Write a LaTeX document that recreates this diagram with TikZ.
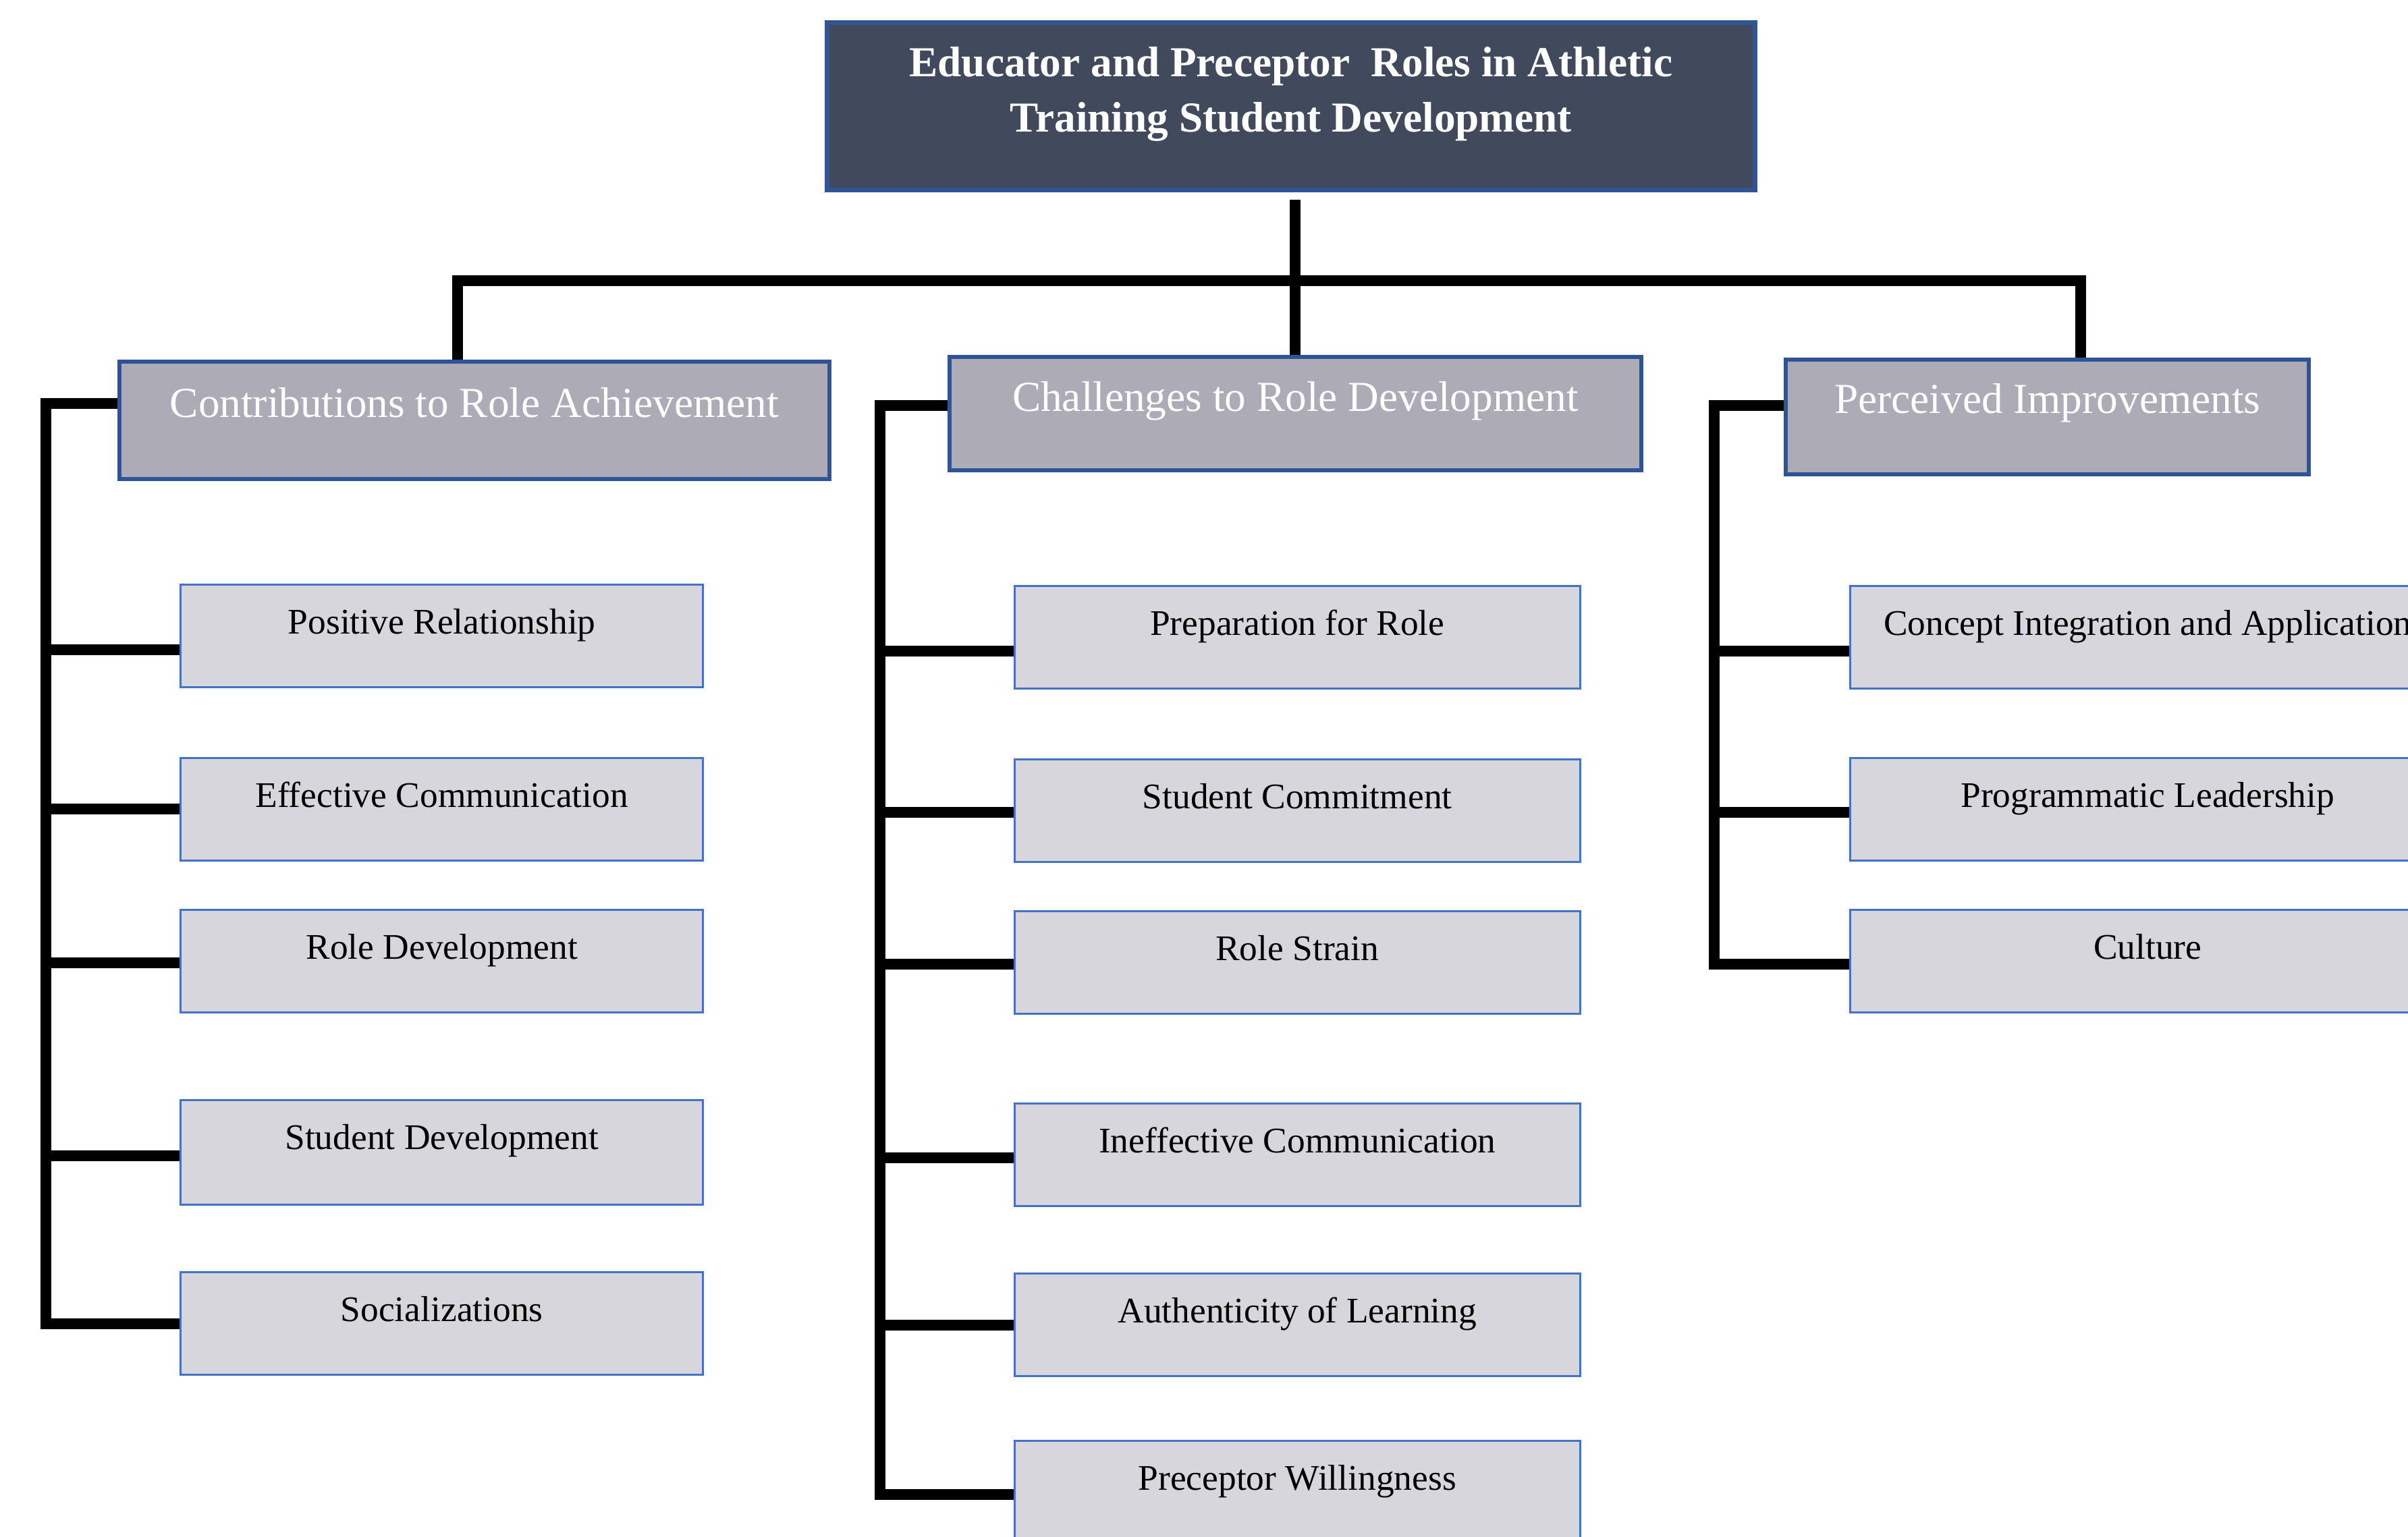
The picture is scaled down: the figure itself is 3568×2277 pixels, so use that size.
\documentclass[tikz,border=0pt]{standalone}
\usepackage{fontspec}
\setmainfont{Liberation Serif}
\definecolor{titlefill}{HTML}{404A5C}
\definecolor{titleborder}{HTML}{2F5597}
\definecolor{headfill}{HTML}{ACABB6}
\definecolor{headborder}{HTML}{2F5496}
\definecolor{leaffill}{HTML}{D6D6DC}
\definecolor{leafborder}{HTML}{4472C4}
\begin{document}
\begin{tikzpicture}[x=0.01cm,y=-0.01cm,
  titlebox/.style={draw=titleborder, line width=0.07cm, fill=titlefill, inner sep=0pt,
    anchor=north west, minimum width=13.74cm, minimum height=2.48cm, align=center,
    text=white, font=\bfseries\fontsize{18}{23.3}\selectfont},
  headbox/.style={draw=headborder, line width=0.06cm, fill=headfill, inner sep=0pt,
    anchor=north west, text=white, font=\fontsize{18}{22}\selectfont},
  leafbox/.style={draw=leafborder, line width=0.03cm, fill=leaffill, inner sep=0pt,
    anchor=north west, minimum height=1.52cm, text height=0.73cm, text depth=0.79cm,
    font=\fontsize{15.2}{18}\selectfont},
  col1/.style={leafbox, minimum width=7.74cm},
  col2/.style={leafbox, minimum width=8.37cm},
  col3/.style={leafbox, minimum width=8.81cm},
  conn/.style={draw=black, line width=0.16cm, line join=miter}
]
\useasboundingbox (0,0) rectangle (3568,2277);
\clip (0,0) rectangle (3568,2277);

% title
\node[titlebox] (title) at (1222,30) {Educator and Preceptor~ Roles in Athletic\\Training Student Development\rule[-0.5cm]{0pt}{0.5cm}};

% headers
\node[headbox, minimum width=10.51cm, minimum height=1.74cm, text height=0.82cm, text depth=0.92cm] (h1) at (174,533) {Contributions to Role Achievement};
\node[headbox, minimum width=10.24cm, minimum height=1.68cm, text height=0.80cm, text depth=0.88cm] (h2) at (1404,526) {Challenges to Role Development};
\node[headbox, minimum width=7.75cm, minimum height=1.70cm, text height=0.79cm, text depth=0.91cm] (h3) at (2643,530) {Perceived Improvements};

% column 1
\node[col1] (c1a) at (266,865) {Positive Relationship};
\node[col1] (c1b) at (266,1122) {Effective Communication};
\node[col1] (c1c) at (266,1347) {Role Development};
\node[col1, minimum height=1.55cm, text depth=0.82cm] (c1d) at (266,1629) {Student Development};
\node[col1] (c1e) at (266,1884) {Socializations};

% column 2
\node[col2] (c2a) at (1502,867) {Preparation for Role};
\node[col2] (c2b) at (1502,1124) {Student Commitment};
\node[col2] (c2c) at (1502,1349) {Role Strain};
\node[col2] (c2d) at (1502,1634) {Ineffective Communication};
\node[col2] (c2e) at (1502,1886) {Authenticity of Learning};
\node[col2] (c2f) at (1502,2134) {Preceptor Willingness};

% column 3
\node[col3] (c3a) at (2740,867) {Concept Integration and Application};
\node[col3] (c3b) at (2740,1122) {Programmatic Leadership};
\node[col3] (c3c) at (2740,1347) {Culture};

% top connectors
\coordinate (j1) at (678,416);
\coordinate (j3) at (3083,416);
\draw[conn] (h2.north) -- ([yshift=-0.11cm]h2.north |- title.south);
\draw[conn] (j1 |- h1.north) -- (j1) -- (j3) -- (j3 |- h3.north);

% column 1 bus
\coordinate (b1t) at (68,598);
\coordinate (b1b) at (68,1962);
\coordinate (k1a) at (68,963);
\coordinate (k1b) at (68,1199);
\coordinate (k1c) at (68,1427);
\coordinate (k1d) at (68,1713);
\draw[conn] (h1.west |- b1t) -- (b1t) -- (b1b) -- (c1e.west |- b1b);
\draw[conn] (k1a) -- (c1a.west |- k1a);
\draw[conn] (k1b) -- (c1b.west |- k1b);
\draw[conn] (k1c) -- (c1c.west |- k1c);
\draw[conn] (k1d) -- (c1d.west |- k1d);

% column 2 bus
\coordinate (b2t) at (1304,601);
\coordinate (b2b) at (1304,2215);
\coordinate (k2a) at (1304,965);
\coordinate (k2b) at (1304,1204);
\coordinate (k2c) at (1304,1429);
\coordinate (k2d) at (1304,1716);
\coordinate (k2e) at (1304,1964);
\draw[conn] (h2.west |- b2t) -- (b2t) -- (b2b) -- (c2f.west |- b2b);
\draw[conn] (k2a) -- (c2a.west |- k2a);
\draw[conn] (k2b) -- (c2b.west |- k2b);
\draw[conn] (k2c) -- (c2c.west |- k2c);
\draw[conn] (k2d) -- (c2d.west |- k2d);
\draw[conn] (k2e) -- (c2e.west |- k2e);

% column 3 bus
\coordinate (b3t) at (2540,601);
\coordinate (b3b) at (2540,1429);
\coordinate (k3a) at (2540,965);
\coordinate (k3b) at (2540,1204);
\draw[conn] (h3.west |- b3t) -- (b3t) -- (b3b) -- (c3c.west |- b3b);
\draw[conn] (k3a) -- (c3a.west |- k3a);
\draw[conn] (k3b) -- (c3b.west |- k3b);
\end{tikzpicture}
\end{document}
